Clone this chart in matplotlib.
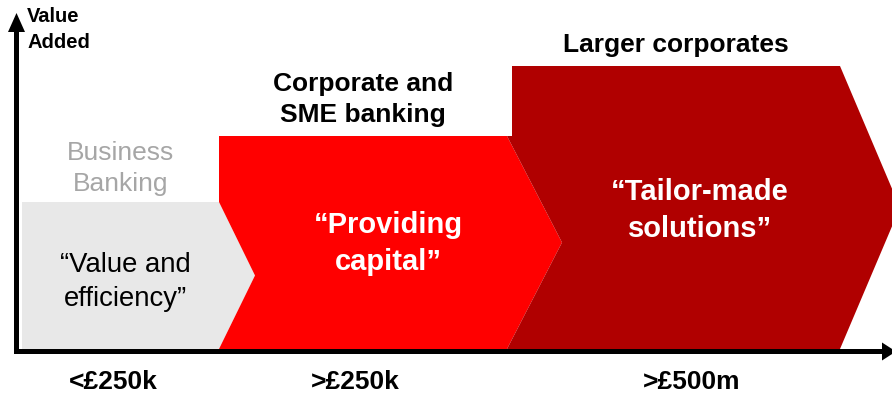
import matplotlib
matplotlib.use("Agg")
import matplotlib.pyplot as plt
from matplotlib.patches import Polygon, FancyArrow

plt.rcParams['font.family'] = ['Liberation Sans', 'DejaVu Sans']

# Client segments, ordered by company size
segments = ["Business\nBanking", "Corporate and\nSME banking", "Larger corporates"]
taglines = ["\u201cValue and\nefficiency\u201d", "\u201cProviding\ncapital\u201d",
            "\u201cTailor-made\nsolutions\u201d"]
size_labels = ["<\u00a3250k", ">\u00a3250k", ">\u00a3500m"]

# Value added by each segment (chevron heights)
value_added = [147, 213, 283]
# Extent of each segment along the size axis (chevron body start / end)
span_start = [22, 219, 512]
span_end = [219, 507, 840]
point_depth = [36, 55, 60]

fill_colors = ["#e8e8e8", "#ff0000", "#b00000"]
segment_text_colors = ["#a6a6a6", "black", "black"]
tag_colors = ["black", "white", "white"]
tag_weights = ["normal", "bold", "bold"]
tag_nudge = [(-13, -6), (-2, -1), (-6, -3)]
head_gap = [6, 9, 9]
size_nudge = [-7, -8, 16]

W, H = 892, 393
fig = plt.figure(figsize=(W / 100, H / 100), dpi=100)
ax = fig.add_axes([0, 0, 1, 1])
ax.set_xlim(0, W)
ax.set_ylim(-44, 349)
ax.axis("off")

# Chevrons: each one's notch follows the right outline of the previous one
for i, (h, x0, x1, d) in enumerate(zip(value_added, span_start, span_end, point_depth)):
    right = [(x1, h), (x1 + d, h / 2), (x1, 0)]
    if i == 0:
        left = [(x0, 0), (x0, h)]
    else:
        ph, px1, pd = value_added[i - 1], span_end[i - 1], point_depth[i - 1]
        left = [(px1, 0), (px1 + pd, ph / 2), (px1, ph), (x0, ph), (x0, h)]
    poly = Polygon(left + right, closed=True, facecolor=fill_colors[i],
                   edgecolor="none", zorder=2 + i)
    ax.add_patch(poly)

    cx = (x0 + x1) / 2
    ax.text(cx, h + head_gap[i], segments[i], ha="center", va="bottom", fontsize=19,
            fontweight="normal" if i == 0 else "bold",
            color=segment_text_colors[i], linespacing=1.38, zorder=10)
    dx, dy = tag_nudge[i]
    ax.text((x0 + x1 + d) / 2 + dx, h / 2 + dy, taglines[i], ha="center",
            va="center", fontsize=19.8 if i == 0 else 21, fontweight=tag_weights[i],
            color=tag_colors[i], linespacing=1.4, zorder=10)
    ax.text(cx + size_nudge[i], -33, size_labels[i], ha="center", va="center",
            fontsize=19, fontweight="bold", color="black", zorder=10)

# Axes with arrow heads
ax.add_patch(FancyArrow(16.5, -5, 0, 341, width=5, head_width=17, head_length=19,
                        length_includes_head=True, color="black", lw=0, zorder=20))
ax.add_patch(FancyArrow(14, -2.5, 882, 0, width=5, head_width=18, head_length=14,
                        length_includes_head=True, color="black", lw=0, zorder=20))

ax.text(27, 349 - 7, "Value\nAdded", ha="left", va="top", fontsize=14.5,
        fontweight="bold", color="black", linespacing=1.5, zorder=10)

fig.savefig("out.png", dpi=100)
